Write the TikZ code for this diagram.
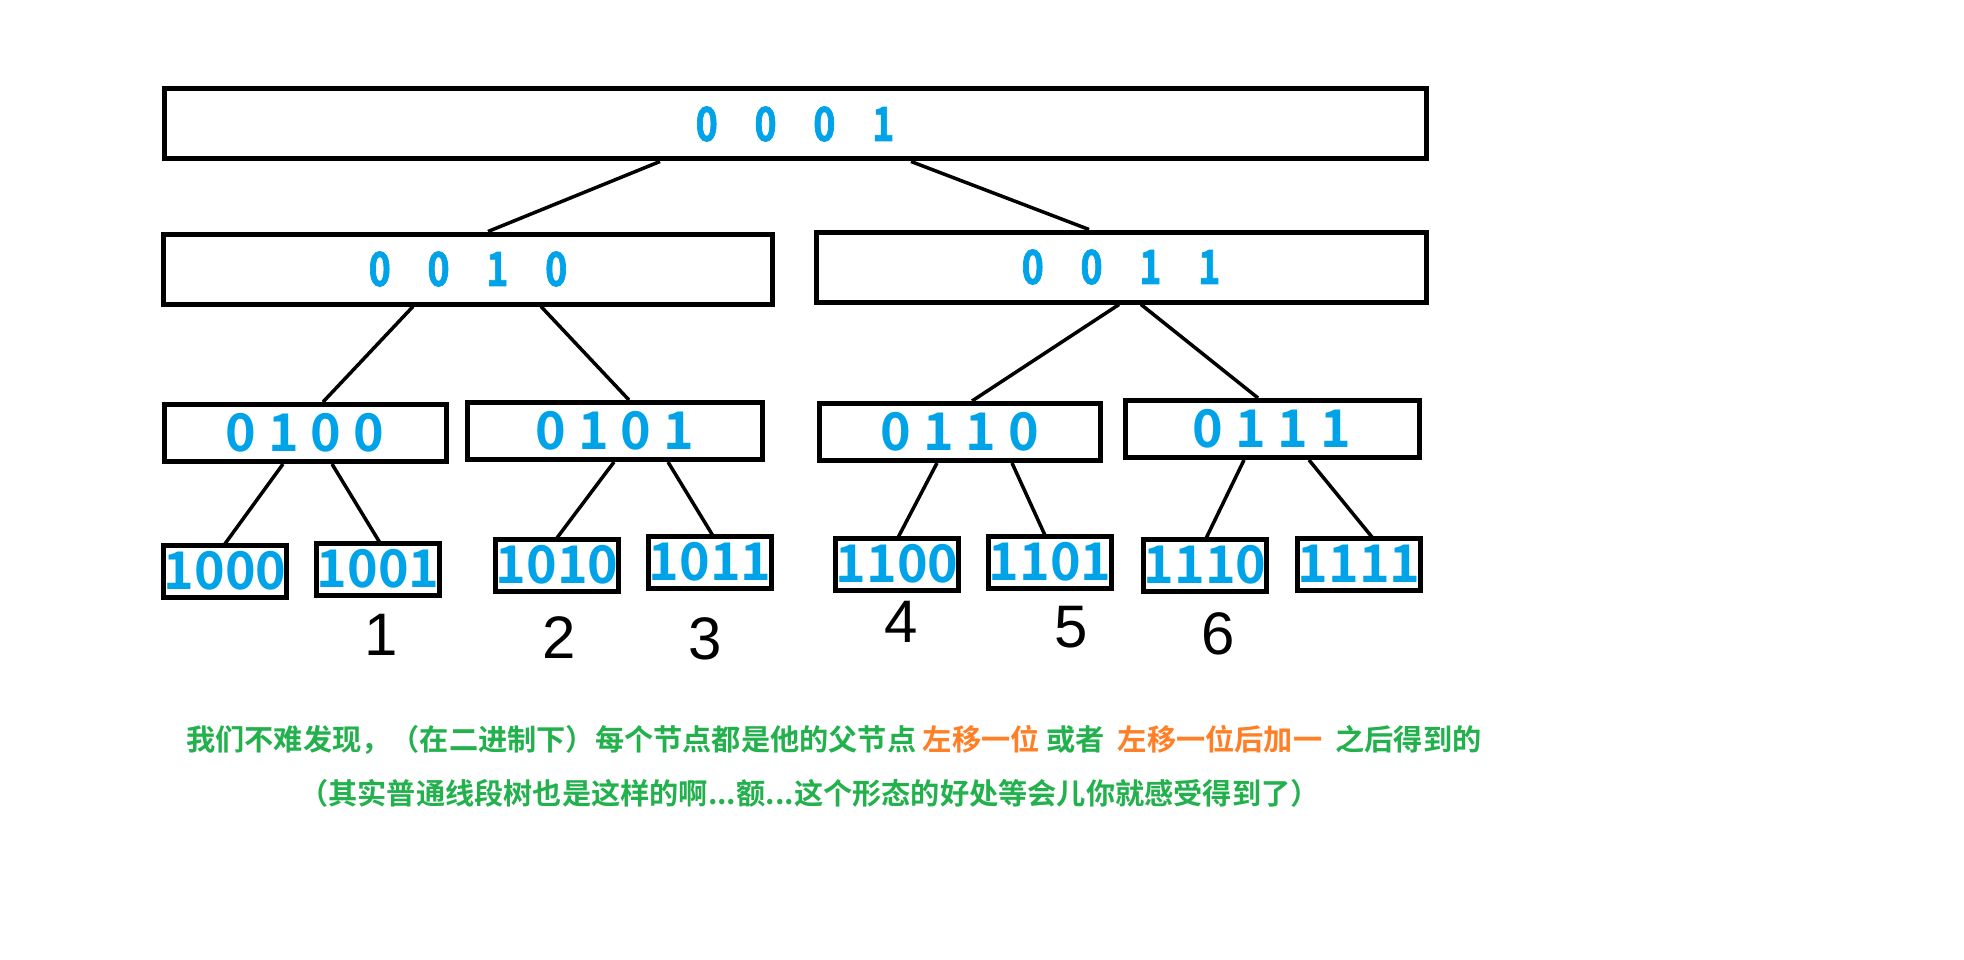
\documentclass[tikz,border=0pt]{standalone}
\usepackage{xcolor}
\usepackage{fontspec}
\usetikzlibrary{positioning}

\newfontfamily\cjkbold{Noto Sans CJK SC Bold}
\newfontfamily\bitnarrow[FakeStretch=0.8,FakeBold=1.5]{Noto Sans CJK SC Bold}
\newfontfamily\handfont{Liberation Sans}
\newcommand\bitwide{\bitnarrow\fontsize{47}{50}\selectfont\spaceskip=0.78em\relax}

\definecolor{bitblue}{HTML}{00A2E8}
\definecolor{notegreen}{HTML}{22B14C}
\definecolor{noteorange}{HTML}{FF7F27}

\begin{document}
\begin{tikzpicture}[
            x=1pt, y=-1pt,
            box/.style={
                    draw,
                    line width=5pt,
                    inner sep=0pt,
                    text=bitblue
                },
            wide/.style={
                    box,
                    minimum height=70pt,
                    font=\bitwide
                },
            mid/.style={
                    box,
                    minimum height=57pt,
                    font=\cjkbold\fontsize{52}{54}\selectfont
                },
            leaf/.style={
                    box,
                    minimum width=121pt,
                    minimum height=52pt,
                    font=\cjkbold\fontsize{52}{56}\selectfont
                },
            link/.style={
                    line width=3.5pt
                },
            hand/.style={
                    inner sep=0pt,
                    font=\handfont\fontsize{60}{62}\selectfont
                },
            note/.style={
                    anchor=west,
                    inner sep=0pt,
                    text=notegreen,
                    font=\cjkbold\fontsize{29.2}{34}\selectfont
                }
        ]

        \useasboundingbox[fill=white] (0,0) rectangle (1964,960);


        \node[wide,minimum width=1262pt] (b0001) at (795,124)
        {0 0 0 1};


        \node[wide,minimum width=609pt] (b0010) at (468,269)
        {0 0 1 0};

        \node[wide,minimum width=610pt] (b0011) at (1121,267)
        {0 0 1 1};


        \node[mid,minimum width=282pt] (b0100) at (305,433)
        {0 1 0 0};

        \node[mid,minimum width=295pt] (b0101) at (615,431)
        {0 1 0 1};

        \node[mid,minimum width=281pt] (b0110) at (960,432)
        {0 1 1 0};

        \node[mid,minimum width=294pt] (b0111) at (1272,429)
        {0 1 1 1};


        \node[leaf] (b1000) at (225,571)
        {1000};

        \node[leaf] (b1001) at (378,569)
        {1001};

        \node[leaf] (b1010) at (557,565)
        {1010};

        \node[leaf] (b1011) at (710,562)
        {1011};

        \node[leaf] (b1100) at (897,564)
        {1100};

        \node[leaf] (b1101) at (1050,562)
        {1101};

        \node[leaf] (b1110) at (1205,565)
        {1110};

        \node[leaf] (b1111) at (1359,564)
        {1111};


        \node[hand,below=17pt of b1001,xshift=3pt] (h1) {1};
        \node[hand,below=23pt of b1010,xshift=2pt] (h2) {2};
        \node[hand,below=27pt of b1011,xshift=-5pt] (h3) {3};
        \node[hand,below=9pt of b1100,xshift=4pt] (h4) {4};
        \node[hand,below=16pt of b1101,xshift=21pt] (h5) {5};
        \node[hand,below=19pt of b1110,xshift=13pt] (h6) {6};


        \draw[link]([xshift=-135pt]b0001.south)--([xshift=20pt]b0010.north);
        \draw[link]([xshift=116pt]b0001.south)--([xshift=-32pt]b0011.north);

        \draw[link]([xshift=-55pt]b0010.south)--([xshift=18pt]b0100.north);
        \draw[link]([xshift=73pt]b0010.south)--([xshift=14pt]b0101.north);
        \draw[link]([xshift=-2pt]b0011.south)--([xshift=12pt]b0110.north);
        \draw[link]([xshift=20pt]b0011.south)--([xshift=-14pt]b0111.north);

        \draw[link]([xshift=-22pt]b0100.south)--([xshift=-2pt,yshift=-4pt]b1000.north);
        \draw[link]([xshift=27pt]b0100.south)--([xshift=3pt,yshift=-4pt]b1001.north);
        \draw[link]([xshift=-1pt]b0101.south)--([xshift=-2pt,yshift=-4pt]b1010.north);
        \draw[link]([xshift=53pt]b0101.south)--([xshift=4pt,yshift=-4pt]b1011.north);
        \draw[link]([xshift=-23pt]b0110.south)--([yshift=-4pt]b1100.north);
        \draw[link]([xshift=52pt]b0110.south)--([xshift=-4pt,yshift=-4pt]b1101.north);
        \draw[link]([xshift=-28pt]b0111.south)--([yshift=-4pt]b1110.north);
        \draw[link]([xshift=37pt]b0111.south)--([xshift=15pt,yshift=-4pt]b1111.north);


        \node[note] (line1) at (186,740)
        {我们不难发现，（在二进制下）每个节点都是他的父节点 \textcolor{noteorange}{左移一位} 或者\ \ \textcolor{noteorange}{左移一位后加一}\ \ 之后得到的};

        \node[note] (line2) at (299,793)
        {（其实普通线段树也是这样的啊...额...这个形态的好处等会儿你就感受得到了）};


    \end{tikzpicture}
\end{document}
